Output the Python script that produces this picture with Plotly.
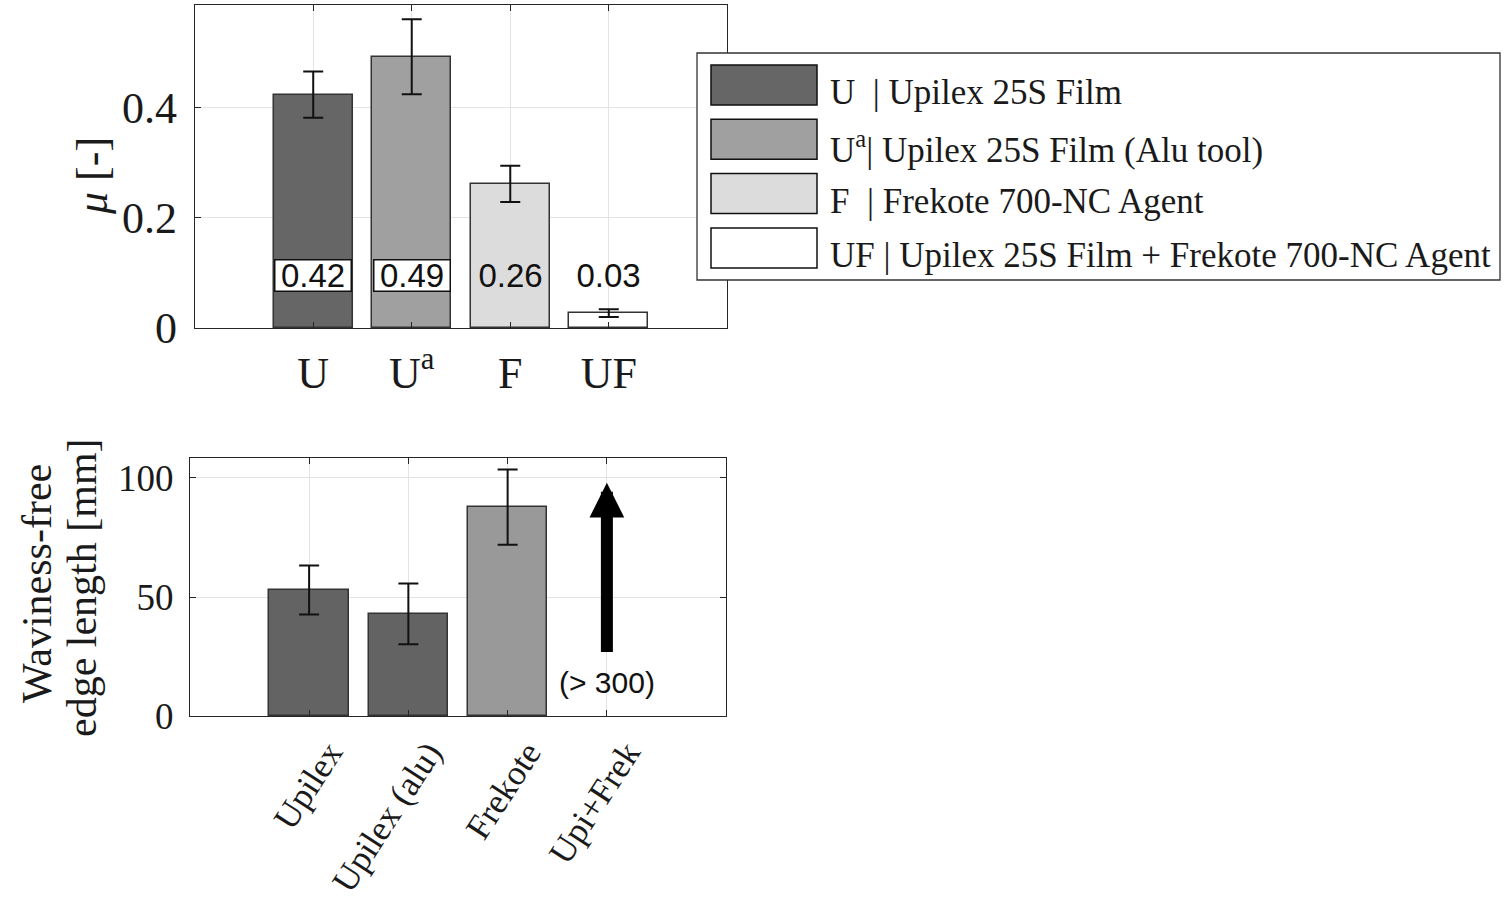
import plotly.graph_objects as go

# ---------------- data ----------------
mu_categories = ["U", "Ua", "F", "UF"]
mu_ticktext = ["U", "U<sup>a</sup>", "F", "UF"]
mu_values = [0.424, 0.493, 0.262, 0.027]
mu_errors = [0.042, 0.068, 0.033, 0.007]

legend_labels = [
    "U  | Upilex 25S Film",
    "U<sup>a</sup>| Upilex 25S Film (Alu tool)",
    "F  | Frekote 700-NC Agent",
    "UF | Upilex 25S Film + Frekote 700-NC Agent",
]

wav_categories = ["Upilex", "Upilex (alu)", "Frekote", "Upi+Frek"]
wav_values = [52.9, 42.9, 87.8, None]
wav_errors = [10.3, 12.8, 15.8, None]
wav_arrow_from = 26.5
wav_arrow_to = 98.0
wav_arrow_label = "(> 300)"

# ---------------- style ----------------
W, H = 1511, 910
SERIF = "Liberation Serif"
SANS = "Liberation Sans"
AX = "#262626"
GRID = "#e3e3e3"
mu_colors = ["#666666", "#a0a0a0", "#dcdcdc", "#ffffff"]
wav_colors = ["#636363", "#636363", "#999999", "#ffffff"]
label_boxed = [True, True, False, False]
LABEL_Y = 0.0955
ARROW_LABEL_Y = 14.0


def px_x(p):
    return p / W


def px_y(p):
    return 1 - p / H


fig = go.Figure()

fig.add_trace(go.Bar(
    x=mu_categories, y=mu_values, width=0.8,
    marker=dict(color=mu_colors, line=dict(color="#333333", width=1.5)),
    error_y=dict(type="data", array=mu_errors, color="#111111", thickness=2, width=10),
    xaxis="x", yaxis="y", showlegend=False,
))

fig.add_trace(go.Bar(
    x=wav_categories, y=wav_values, width=0.8,
    marker=dict(color=wav_colors, line=dict(color="#333333", width=1.5)),
    error_y=dict(type="data", array=wav_errors, color="#111111", thickness=2, width=10),
    xaxis="x2", yaxis="y2", showlegend=False,
))

axis_common = dict(
    showline=True, mirror="ticks", linecolor=AX, linewidth=1.3,
    ticks="inside", ticklen=6, tickcolor=AX, tickwidth=1,
    showgrid=True, gridcolor=GRID, gridwidth=1, zeroline=False,
    automargin=False,
)
top_font = dict(family=SERIF, size=44, color="#1a1a1a")
bottom_font = dict(family=SERIF, size=37, color="#1a1a1a")
bottom_xfont = dict(family=SERIF, size=35, color="#1a1a1a")

fig.update_layout(
    width=W, height=H,
    margin=dict(l=0, r=0, t=0, b=0, autoexpand=False),
    paper_bgcolor="white", plot_bgcolor="white",
    bargap=0,
    xaxis=dict(
        domain=[px_x(195), px_x(727)], anchor="y",
        type="category", categoryorder="array", categoryarray=mu_categories,
        tickvals=mu_categories, ticktext=mu_ticktext, tickfont=top_font,
        range=[-1.2, 4.2], ticklabelstandoff=6, **axis_common,
    ),
    yaxis=dict(
        domain=[px_y(328), px_y(5)], anchor="x",
        range=[0, 0.587], tickvals=[0, 0.2, 0.4], ticktext=["0", "0.2", "0.4"],
        tickfont=top_font, ticklabelstandoff=8, **axis_common,
    ),
    xaxis2=dict(
        domain=[px_x(190), px_x(726)], anchor="y2",
        type="category", categoryorder="array", categoryarray=wav_categories,
        tickvals=wav_categories, ticktext=wav_categories, tickfont=bottom_xfont,
        range=[-1.2, 4.2], tickangle=-57, ticklabelstandoff=1, ticklabelshift=20,
        **axis_common,
    ),
    yaxis2=dict(
        domain=[px_y(716), px_y(458)], anchor="x2",
        range=[0, 108.4], tickvals=[0, 50, 100], ticktext=["0", "50", "100"],
        tickfont=bottom_font, ticklabelstandoff=8, **axis_common,
    ),
)

annotations = []
# value labels on top chart
for cat, v, boxed in zip(mu_categories, mu_values, label_boxed):
    ann = dict(
        x=cat, y=LABEL_Y, xref="x", yref="y", text=f"{v:.2f}", showarrow=False,
        font=dict(family=SANS, size=33, color="#111111"),
        width=75, height=30, borderpad=0,
    )
    if boxed:
        ann.update(bgcolor="white", bordercolor="#111111", borderwidth=1.5)
    annotations.append(ann)

# arrow for Upi+Frek
annotations.append(dict(
    x=wav_categories[3], y=wav_arrow_to, ax=wav_categories[3], ay=wav_arrow_from,
    xref="x2", yref="y2", axref="x2", ayref="y2",
    showarrow=True, arrowhead=2, arrowwidth=12, arrowsize=0.58,
    arrowcolor="black", standoff=0, startstandoff=0, text=" ",
    font=dict(size=1), borderpad=0,
))
annotations.append(dict(
    x=wav_categories[3], y=ARROW_LABEL_Y, xref="x2", yref="y2",
    text=wav_arrow_label, showarrow=False,
    font=dict(family=SANS, size=30, color="#111111"),
))

# axis titles
annotations.append(dict(
    x=px_x(93), y=px_y(176), xref="paper", yref="paper",
    xanchor="center", yanchor="middle",
    text="<i>μ</i> [-]", textangle=-90, showarrow=False,
    font=dict(family=SERIF, size=44, color="#1a1a1a"),
))
title2_font = dict(family=SERIF, size=42, color="#1a1a1a")
annotations.append(dict(
    x=px_x(37), y=px_y(584), xref="paper", yref="paper",
    xanchor="center", yanchor="middle",
    text="Waviness-free", textangle=-90, showarrow=False, font=title2_font,
))
annotations.append(dict(
    x=px_x(82), y=px_y(588), xref="paper", yref="paper",
    xanchor="center", yanchor="middle",
    text="edge length [mm]", textangle=-90, showarrow=False, font=title2_font,
))

# custom legend (large swatches)
shapes = [dict(
    type="rect", xref="paper", yref="paper",
    x0=px_x(697), x1=px_x(1500), y0=px_y(280), y1=px_y(53),
    line=dict(color="#333333", width=1.3), fillcolor="white", layer="above",
)]
row_top = 65
row_step = 54.3
for i, (lab, col) in enumerate(zip(legend_labels, mu_colors)):
    top = row_top + i * row_step
    shapes.append(dict(
        type="rect", xref="paper", yref="paper",
        x0=px_x(711), x1=px_x(817), y0=px_y(top + 40), y1=px_y(top),
        line=dict(color="#111111", width=1.5), fillcolor=col, layer="above",
    ))
    annotations.append(dict(
        x=px_x(828), y=px_y(top + 28), xref="paper", yref="paper",
        xanchor="left", yanchor="middle", text=lab, showarrow=False,
        font=dict(family=SERIF, size=35, color="#1a1a1a"),
    ))

fig.update_layout(annotations=annotations, shapes=shapes)

fig.write_html("out.html")
